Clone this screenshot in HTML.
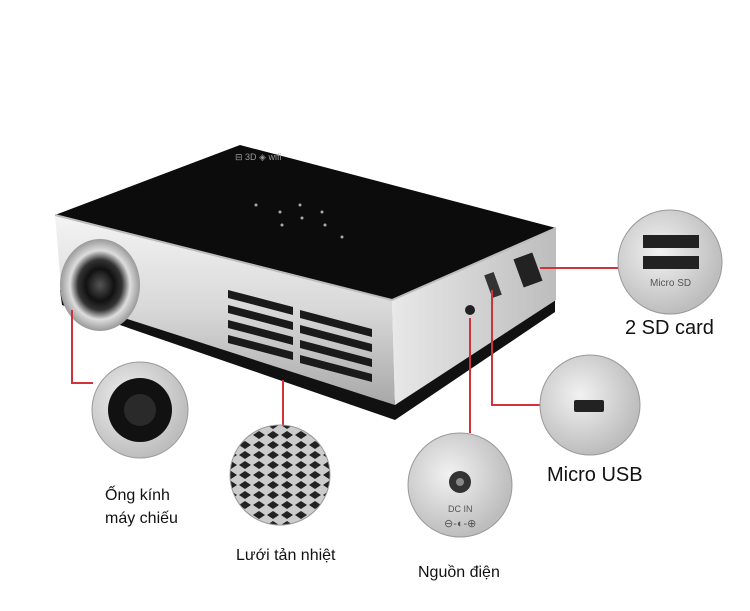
<!DOCTYPE html>
<html><head><meta charset="utf-8"><style>
html,body{margin:0;padding:0;background:#fff}
svg{display:block}
text{font-family:"Liberation Sans","DejaVu Sans",sans-serif;fill:#111}
</style></head><body>
<svg width="750" height="611" viewBox="0 0 750 611" xmlns="http://www.w3.org/2000/svg">
<defs>
<linearGradient id="silver" x1="0" y1="0" x2="0" y2="1">
<stop offset="0" stop-color="#f4f4f4"/><stop offset="0.5" stop-color="#d8d8d8"/><stop offset="1" stop-color="#a8a8a8"/></linearGradient>
<linearGradient id="side" x1="0" y1="0" x2="1" y2="0">
<stop offset="0" stop-color="#e8e8e8"/><stop offset="1" stop-color="#bdbdbd"/></linearGradient>
<radialGradient id="lens" cx="0.5" cy="0.5" r="0.5">
<stop offset="0" stop-color="#555"/><stop offset="0.35" stop-color="#111"/><stop offset="0.55" stop-color="#333"/><stop offset="0.75" stop-color="#ddd"/><stop offset="1" stop-color="#999"/></radialGradient>
<radialGradient id="circ" cx="0.4" cy="0.4" r="0.6">
<stop offset="0" stop-color="#f2f2f2"/><stop offset="1" stop-color="#bdbdbd"/></radialGradient>
<pattern id="grill" width="14" height="10" patternUnits="userSpaceOnUse">
<rect width="14" height="10" fill="#ccc"/><path d="M1 5 L7 1 L13 5 L7 9Z" fill="#222"/></pattern>
</defs>
<!-- bottom black base -->
<path d="M60 290 L395 400 L555 300 L555 312 L395 420 L62 305Z" fill="#111"/>
<!-- front face -->
<path d="M55 215 L392 300 L395 405 L62 298Z" fill="url(#silver)"/>
<!-- right face -->
<path d="M392 300 L556 228 L556 300 L395 405Z" fill="url(#side)"/>
<!-- top -->
<path d="M55 215 L240 145 L556 228 L392 300Z" fill="#0c0c0c"/>
<path d="M55 215 L392 300 L556 228" fill="none" stroke="#bbb" stroke-width="2"/>
<!-- top buttons -->
<g fill="#aaa"><circle cx="256" cy="205" r="1.5"/><circle cx="280" cy="212" r="1.5"/><circle cx="300" cy="205" r="1.5"/><circle cx="322" cy="212" r="1.5"/><circle cx="282" cy="225" r="1.5"/><circle cx="302" cy="218" r="1.5"/><circle cx="325" cy="225" r="1.5"/><circle cx="342" cy="237" r="1.5"/></g>
<text x="235" y="160" font-size="9" fill="#999" style="fill:#999">⊟ 3D ◈ wifi</text>
<!-- vents -->
<g fill="#1a1a1a">
<path d="M228 290 l65 17 v8 l-65 -17z"/><path d="M228 305 l65 17 v8 l-65 -17z"/><path d="M228 320 l65 17 v8 l-65 -17z"/><path d="M228 335 l65 17 v8 l-65 -17z"/>
<path d="M300 310 l72 19 v8 l-72 -19z"/><path d="M300 325 l72 19 v8 l-72 -19z"/><path d="M300 340 l72 19 v8 l-72 -19z"/><path d="M300 355 l72 19 v8 l-72 -19z"/>
</g>
<!-- lens -->
<ellipse cx="100" cy="285" rx="40" ry="46" fill="url(#lens)"/>
<!-- ports -->
<circle cx="470" cy="310" r="5" fill="#222"/>
<rect x="488" y="273" width="10" height="24" fill="#333" transform="rotate(-20 493 285)"/>
<rect x="518" y="255" width="20" height="30" fill="#222" transform="rotate(-20 528 270)"/>
<!-- red lines -->
<g stroke="#d0343a" stroke-width="2" fill="none">
<path d="M72 310 V383 H93"/>
<path d="M283 380 V425"/>
<path d="M470 318 V433"/>
<path d="M492 290 V405 H540"/>
<path d="M540 268 H620"/>
</g>
<!-- detail circles -->
<circle cx="140" cy="410" r="48" fill="url(#circ)" stroke="#999"/>
<circle cx="140" cy="410" r="32" fill="#111"/><circle cx="140" cy="410" r="16" fill="#2a2a2a"/>
<circle cx="280" cy="475" r="50" fill="url(#grill)" stroke="#999"/>
<circle cx="460" cy="485" r="52" fill="url(#circ)" stroke="#999"/>
<circle cx="460" cy="482" r="11" fill="#333"/><circle cx="460" cy="482" r="4" fill="#888"/>
<text x="448" y="512" font-size="9" style="fill:#555">DC IN</text>
<text x="444" y="527" font-size="11" style="fill:#555">⊖-◐-⊕</text>
<circle cx="590" cy="405" r="50" fill="url(#circ)" stroke="#999"/>
<rect x="574" y="400" width="30" height="12" rx="2" fill="#222"/>
<circle cx="670" cy="262" r="52" fill="url(#circ)" stroke="#999"/>
<rect x="643" y="235" width="56" height="13" fill="#222"/><rect x="643" y="256" width="56" height="13" fill="#222"/>
<text x="650" y="286" font-size="10" style="fill:#555">Micro SD</text>
<!-- labels -->
<text x="105" y="500" font-size="16">Ống kính</text>
<text x="105" y="523" font-size="16">máy chiếu</text>
<text x="236" y="560" font-size="16">Lưới tản nhiệt</text>
<text x="418" y="577" font-size="16">Nguồn điện</text>
<text x="547" y="481" font-size="20">Micro USB</text>
<text x="625" y="334" font-size="20">2 SD card</text>
</svg>
</body></html>
